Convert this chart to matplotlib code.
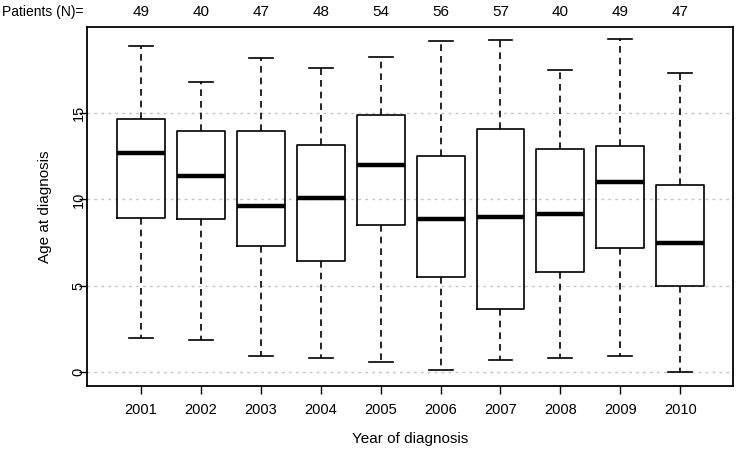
import matplotlib
matplotlib.use("Agg")
import matplotlib.pyplot as plt
import matplotlib.transforms as mtransforms

plt.rcParams['font.family'] = ['Liberation Sans', 'DejaVu Sans']

years = ['2001', '2002', '2003', '2004', '2005', '2006', '2007', '2008', '2009', '2010']
patients = [49, 40, 47, 48, 54, 56, 57, 40, 49, 47]
whislo = [1.95, 1.85, 0.94, 0.83, 0.56, 0.13, 0.70, 0.81, 0.93, 0.02]
q1 = [8.90, 8.86, 7.28, 6.43, 8.49, 5.48, 3.67, 5.77, 7.18, 4.98]
med = [12.68, 11.35, 9.63, 10.10, 12.00, 8.86, 8.98, 9.17, 11.00, 7.49]
q3 = [14.65, 13.95, 13.95, 13.13, 14.86, 12.49, 14.09, 12.90, 13.10, 10.81]
whishi = [18.86, 16.79, 18.16, 17.60, 18.24, 19.15, 19.24, 17.47, 19.26, 17.33]

stats = []
for i in range(len(years)):
    stats.append({'whislo': whislo[i], 'q1': q1[i], 'med': med[i],
                  'q3': q3[i], 'whishi': whishi[i], 'fliers': [],
                  'label': years[i]})

fig = plt.figure(figsize=(7.37, 4.49), dpi=100)
ax = fig.add_axes([0.118, 0.140, 0.8766, 0.800])

# gridlines behind boxes
for g in [0, 5, 10, 15]:
    ax.axhline(g, color='#c4c4c4', lw=1.0, ls=(0, (2, 3)), zorder=0)

pos = list(range(1, len(years) + 1))
ax.bxp(stats, positions=pos, widths=0.8, showfliers=False,
       boxprops=dict(color='black', lw=1.2),
       medianprops=dict(color='black', lw=3.2, solid_capstyle='butt'),
       whiskerprops=dict(color='black', lw=1.2, ls=(0, (4, 3))),
       capprops=dict(color='black', lw=1.2),
       capwidths=0.4)

ax.set_xlim(0.1, 10.88)
ax.set_ylim(-0.81, 19.98)
ax.set_yticks([0, 5, 10, 15])
ax.set_yticklabels(['0', '5', '10', '15'], rotation=90, va='center')
ax.set_xticks(pos)
ax.set_xticklabels(years)
ax.tick_params(axis='both', direction='out', length=6, width=1.0,
               labelsize=10.5)
ax.tick_params(axis='x', pad=6)
ax.tick_params(axis='y', pad=-5)
for s in ax.spines.values():
    s.set_linewidth(1.3)

ax.set_xlabel('Year of diagnosis', fontsize=11, labelpad=11)
ax.set_ylabel('Age at diagnosis', fontsize=11, labelpad=14)

trans = mtransforms.blended_transform_factory(ax.transData, ax.transAxes)
for p, n in zip(pos, patients):
    ax.text(p, 1.042, str(n), transform=trans, ha='center', va='center',
            fontsize=11)
fig.text(0.003, 1 - 12 / 449, 'Patients (N)=', ha='left', va='center',
         fontsize=10)

fig.savefig('out.png', dpi=100)
